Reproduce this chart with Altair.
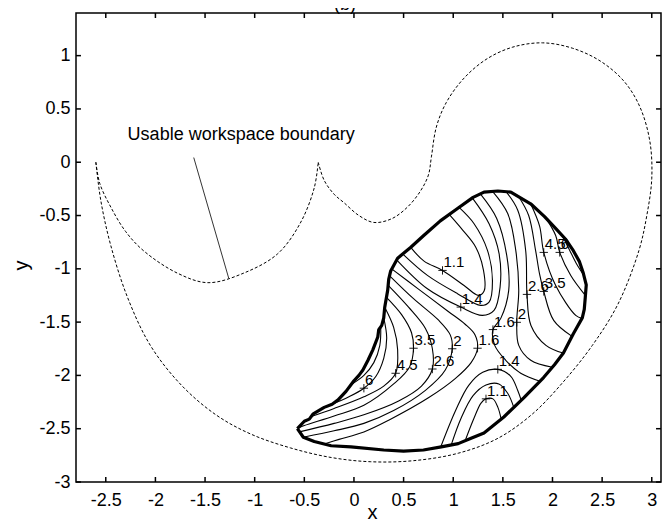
import altair as alt
import pandas as pd

# ---------------- axes ----------------
X_DOMAIN = [-2.8, 3.093]
Y_DOMAIN = [-3.0, 1.4]
x_ticks = [-2.5, -2, -1.5, -1, -0.5, 0, 0.5, 1, 1.5, 2, 2.5, 3]
y_ticks = [-3, -2.5, -2, -1.5, -1, -0.5, 0, 0.5, 1]

# ---------------- workspace boundary (dashed) ----------------
workspace_outer = [(-0.36, 0.0), (-0.30, -0.17), (-0.20, -0.30), (-0.10, -0.38), (0.05, -0.50), (0.20, -0.565),
                   (0.38, -0.53), (0.54, -0.42), (0.67, -0.27), (0.75, -0.12), (0.78, 0.05), (0.83, 0.33),
                   (0.93, 0.56), (1.11, 0.79), (1.34, 0.97), (1.60, 1.08), (1.90, 1.12), (2.20, 1.07),
                   (2.48, 0.95), (2.72, 0.76), (2.88, 0.52), (2.98, 0.20), (3.00, -0.15), (2.95, -0.50),
                   (2.87, -0.83), (2.66, -1.33), (2.40, -1.72), (2.10, -2.07), (1.80, -2.36), (1.45, -2.59),
                   (1.05, -2.73), (0.60, -2.80), (0.17, -2.81), (-0.23, -2.77), (-0.64, -2.68), (-1.04, -2.55),
                   (-1.39, -2.37), (-1.74, -2.09), (-2.05, -1.72), (-2.28, -1.27), (-2.45, -0.78), (-2.55, -0.36),
                   (-2.60, 0.0)]
workspace_inner = [(-2.60, 0.0), (-2.56, -0.20), (-2.45, -0.42), (-2.30, -0.65), (-2.12, -0.83), (-1.78, -1.04),
                   (-1.47, -1.13), (-1.11, -1.04), (-0.77, -0.86), (-0.54, -0.57), (-0.40, -0.24), (-0.36, 0.0)]

# annotation
annot_text = "Usable workspace boundary"
annot_pos = (-2.28, 0.21)
leader = [(-1.614, 0.044), (-1.261, -1.09)]

# ---------------- usable workspace boundary (thick) ----------------
usable = [(-0.57, -2.50), (-0.50, -2.43), (-0.45, -2.41), (-0.41, -2.36), (-0.30, -2.30), (-0.22, -2.27),
          (-0.16, -2.23), (-0.08, -2.15), (0.0, -2.05), (0.05, -2.00), (0.09, -1.95), (0.14, -1.86),
          (0.19, -1.76), (0.24, -1.64), (0.25, -1.57), (0.28, -1.53), (0.30, -1.46), (0.31, -1.36),
          (0.34, -1.20), (0.35, -1.10), (0.37, -1.02), (0.44, -0.90), (0.57, -0.80), (0.70, -0.69),
          (0.87, -0.55), (1.05, -0.43), (1.20, -0.33), (1.31, -0.28), (1.45, -0.27), (1.58, -0.28),
          (1.78, -0.39), (1.92, -0.51), (2.05, -0.64), (2.13, -0.72), (2.21, -0.83), (2.27, -0.93),
          (2.31, -1.04), (2.34, -1.15), (2.33, -1.27), (2.32, -1.38), (2.30, -1.46), (2.21, -1.61),
          (2.11, -1.79), (2.02, -1.90), (1.91, -2.02), (1.71, -2.21), (1.51, -2.39), (1.31, -2.54),
          (1.18, -2.59), (1.05, -2.64), (0.88, -2.67), (0.70, -2.70), (0.50, -2.71), (0.30, -2.70),
          (-0.03, -2.67), (-0.23, -2.66), (-0.40, -2.62), (-0.51, -2.58), (-0.57, -2.50)]

# ---------------- contour lines ----------------
c_up_11 = [(0.572, -0.799), (0.706, -0.928), (0.892, -1.015), (1.109, -1.156), (1.254, -1.249), (1.311, -1.209),
           (1.305, -1.015), (1.227, -0.797), (1.093, -0.634), (0.96, -0.49)]
c_up_12 = [(0.49, -0.86), (0.740, -1.062), (1.043, -1.233), (1.277, -1.343), (1.361, -1.312), (1.395, -1.109),
           (1.345, -0.827), (1.210, -0.577), (1.059, -0.424)]
c_up_14 = [(0.43, -0.915), (0.740, -1.187), (1.076, -1.359), (1.294, -1.437), (1.411, -1.390), (1.472, -1.172),
           (1.462, -0.858), (1.361, -0.577), (1.194, -0.337)]
c_left_16 = [(0.38, -1.0), (0.65, -1.19), (0.95, -1.40), (1.12, -1.52), (1.22, -1.62), (1.245, -1.745),
             (1.18, -1.88), (1.02, -2.03), (0.75, -2.21), (0.35, -2.42), (0.10, -2.53), (-0.15, -2.60),
             (-0.30, -2.643)]
c_left_2 = [(0.365, -1.07), (0.60, -1.28), (0.85, -1.48), (0.97, -1.62), (0.99, -1.75), (0.92, -1.95),
            (0.72, -2.14), (0.40, -2.33), (0.10, -2.45), (-0.20, -2.52), (-0.50, -2.578)]
c_left_26 = [(0.35, -1.16), (0.55, -1.36), (0.72, -1.56), (0.79, -1.75), (0.79, -1.94), (0.68, -2.10),
             (0.45, -2.24), (0.10, -2.37), (-0.20, -2.45), (-0.55, -2.53)]
c_left_35 = [(0.33, -1.27), (0.48, -1.43), (0.58, -1.60), (0.60, -1.745), (0.56, -1.92), (0.40, -2.08),
             (0.10, -2.28), (-0.20, -2.38), (-0.50, -2.47), (-0.555, -2.49)]
c_left_45 = [(0.315, -1.37), (0.40, -1.55), (0.44, -1.76), (0.42, -1.98), (0.30, -2.10), (0.10, -2.20),
             (-0.20, -2.31), (-0.43, -2.385)]
c_left_6 = [(0.30, -1.46), (0.33, -1.65), (0.30, -1.84), (0.22, -2.01), (0.10, -2.12), (-0.05, -2.20),
            (-0.25, -2.28)]
c_left_8 = [(0.27, -1.55), (0.26, -1.72), (0.20, -1.88), (0.10, -2.00), (-0.03, -2.087)]
c_right_16 = [(1.277, -0.302), (1.438, -0.527), (1.539, -0.874), (1.559, -1.202), (1.479, -1.465), (1.40, -1.57),
              (1.418, -1.718), (1.529, -1.858), (1.680, -1.980), (1.875, -2.055)]
c_right_2 = [(1.398, -0.275), (1.549, -0.481), (1.630, -0.827), (1.660, -1.202), (1.640, -1.502), (1.660, -1.718),
             (1.781, -1.858), (1.998, -1.924)]
c_right_26 = [(1.532, -0.276), (1.65, -0.45), (1.73, -0.83), (1.743, -1.240), (1.783, -1.531), (1.934, -1.718),
              (2.115, -1.793)]
c_right_35 = [(1.66, -0.324), (1.76, -0.50), (1.83, -0.83), (1.87, -1.05), (1.912, -1.212), (2.012, -1.484),
              (2.197, -1.634)]
c_right_45 = [(1.78, -0.39), (1.87, -0.60), (1.912, -0.846), (2.032, -1.156), (2.234, -1.437), (2.297, -1.465)]
c_right_6 = [(1.93, -0.52), (2.032, -0.687), (2.073, -0.846), (2.184, -1.062), (2.331, -1.249)]
c_right_8 = [(2.10, -0.69), (2.17, -0.82), (2.24, -0.95), (2.315, -1.06)]
c_low_11 = [(1.12, -2.613), (1.21, -2.40), (1.28, -2.26), (1.33, -2.22), (1.40, -2.22), (1.45, -2.30), (1.483, -2.41)]
c_low_12 = [(0.98, -2.652), (1.08, -2.40), (1.20, -2.19), (1.33, -2.09), (1.46, -2.08), (1.55, -2.17), (1.61, -2.30)]
c_low_14 = [(0.874, -2.671), (1.025, -2.327), (1.156, -2.093), (1.297, -1.971), (1.449, -1.943), (1.580, -2.008),
            (1.649, -2.139), (1.685, -2.233)]

contours = [c_up_11, c_up_12, c_up_14, c_left_16, c_left_2, c_left_26, c_left_35, c_left_45, c_left_6,
            c_left_8, c_right_16, c_right_2, c_right_26, c_right_35, c_right_45, c_right_6, c_right_8,
            c_low_11, c_low_12, c_low_14]

# contour labels
lab_text = ["1.1", "1.4", "1.6", "2", "2.6", "3.5", "4.5", "6",
            "3.5", "2", "1.6", "2.6", "4.5", "6", "1.4", "1.1"]
lab_x = [0.892, 1.076, 1.40, 1.640, 1.743, 1.912, 1.912, 2.073,
         0.60, 0.99, 1.245, 0.79, 0.42, 0.10, 1.449, 1.33]
lab_y = [-1.015, -1.359, -1.57, -1.502, -1.240, -1.212, -0.846, -0.846,
         -1.745, -1.75, -1.745, -1.94, -1.98, -2.12, -1.943, -2.22]

title_text = "(b)"
title_x = -0.09

# ---------------- build tables ----------------
def path_df(pts, cid=0):
    return pd.DataFrame({"x": [p[0] for p in pts], "y": [p[1] for p in pts],
                         "i": list(range(len(pts))), "cid": cid})

ws_df = pd.concat([path_df(workspace_outer, 0), path_df(workspace_inner, 1)], ignore_index=True)
usable_df = path_df(usable)
leader_df = path_df(leader)
cont_df = pd.concat([path_df(c, k) for k, c in enumerate(contours)], ignore_index=True)
lab_df = pd.DataFrame({"x": lab_x, "y": lab_y, "t": lab_text})
annot_df = pd.DataFrame({"x": [annot_pos[0]], "y": [annot_pos[1]], "t": [annot_text]})
title_df = pd.DataFrame({"x": [title_x], "t": [title_text]})

TX = 0.05   # tick length in x units (~5px)
TY = 0.047  # tick length in y units (~5px)
n = len(x_ticks)
m = len(y_ticks)
xtick_df = pd.DataFrame({"x": x_ticks * 2,
                         "y": [Y_DOMAIN[0]] * n + [Y_DOMAIN[1]] * n,
                         "y2": [Y_DOMAIN[0] + TY] * n + [Y_DOMAIN[1] - TY] * n})
ytick_df = pd.DataFrame({"y": y_ticks * 2,
                         "x": [X_DOMAIN[0]] * m + [X_DOMAIN[1]] * m,
                         "x2": [X_DOMAIN[0] + TX] * m + [X_DOMAIN[1] - TX] * m})

FONT = "Liberation Sans"
xscale = alt.Scale(domain=X_DOMAIN, nice=False, zero=False)
yscale = alt.Scale(domain=Y_DOMAIN, nice=False, zero=False)
xaxis = alt.Axis(values=x_ticks, labelExpr="datum.value", ticks=False, domain=False, grid=False,
                 labelFont=FONT, labelFontSize=18, labelColor="black", labelPadding=9,
                 labelFlush=False, labelOverlap=False,
                 title="x", titleFont=FONT, titleFontSize=20, titleFontWeight="normal", titleColor="black",
                 titleX=296, titleY=36, titleBaseline="alphabetic")
yaxis = alt.Axis(values=y_ticks, labelExpr="datum.value", ticks=False, domain=False, grid=False,
                 labelFont=FONT, labelFontSize=18, labelColor="black", labelPadding=6,
                 labelFlush=False, labelOverlap=False,
                 title="y", titleFont=FONT, titleFontSize=20, titleFontWeight="normal", titleColor="black",
                 titleX=-49, titleY=252, titleAngle=270, titleAlign="center", titleBaseline="alphabetic")

X = alt.X("x:Q", scale=xscale, axis=xaxis)
Y = alt.Y("y:Q", scale=yscale, axis=yaxis)

ws_layer = alt.Chart(ws_df).mark_line(color="black", strokeWidth=1, strokeDash=[3, 2], clip=True,
                                      interpolate="catmull-rom").encode(
    x=X, y=Y, detail="cid:N", order="i:Q")
leader_layer = alt.Chart(leader_df).mark_line(color="black", strokeWidth=0.8).encode(x=X, y=Y, order="i:Q")
cont_layer = alt.Chart(cont_df).mark_line(color="black", strokeWidth=1.1, interpolate="catmull-rom").encode(
    x=X, y=Y, detail="cid:N", order="i:Q")
usable_layer = alt.Chart(usable_df).mark_line(color="black", strokeWidth=3.2, strokeJoin="round").encode(
    x=X, y=Y, order="i:Q")
cross_layer = alt.Chart(lab_df).mark_point(shape="M-1,0L1,0M0,-1L0,1", size=70, filled=False,
                                           color="black", strokeWidth=0.9, opacity=1).encode(x=X, y=Y)
lab_layer = alt.Chart(lab_df).mark_text(align="left", baseline="alphabetic", dx=1, dy=-3, font=FONT,
                                        fontSize=15, color="black").encode(x=X, y=Y, text="t:N")
annot_layer = alt.Chart(annot_df).mark_text(align="left", baseline="alphabetic", font=FONT, fontSize=18,
                                            color="black").encode(x=X, y=Y, text="t:N")
title_layer = alt.Chart(title_df).mark_text(align="center", baseline="alphabetic", font=FONT, fontSize=18,
                                            color="black").encode(x=X, y=alt.value(-3), text="t:N")
xtick_layer = alt.Chart(xtick_df).mark_rule(color="black", strokeWidth=1.5).encode(x=X, y=Y, y2="y2:Q")
ytick_layer = alt.Chart(ytick_df).mark_rule(color="black", strokeWidth=1.5).encode(x=X, x2="x2:Q", y=Y)

chart = alt.layer(ws_layer, leader_layer, cont_layer, usable_layer, cross_layer, lab_layer,
                  annot_layer, title_layer, xtick_layer, ytick_layer).properties(
    width=585, height=469,
    padding={"left": 68, "top": 5, "right": 1, "bottom": 40},
    autosize=alt.AutoSizeParams(type="none"),
    background="white",
).configure_view(stroke="black", strokeWidth=1.5)

chart.save("out.html", embed_options={"renderer": "svg", "actions": False})
